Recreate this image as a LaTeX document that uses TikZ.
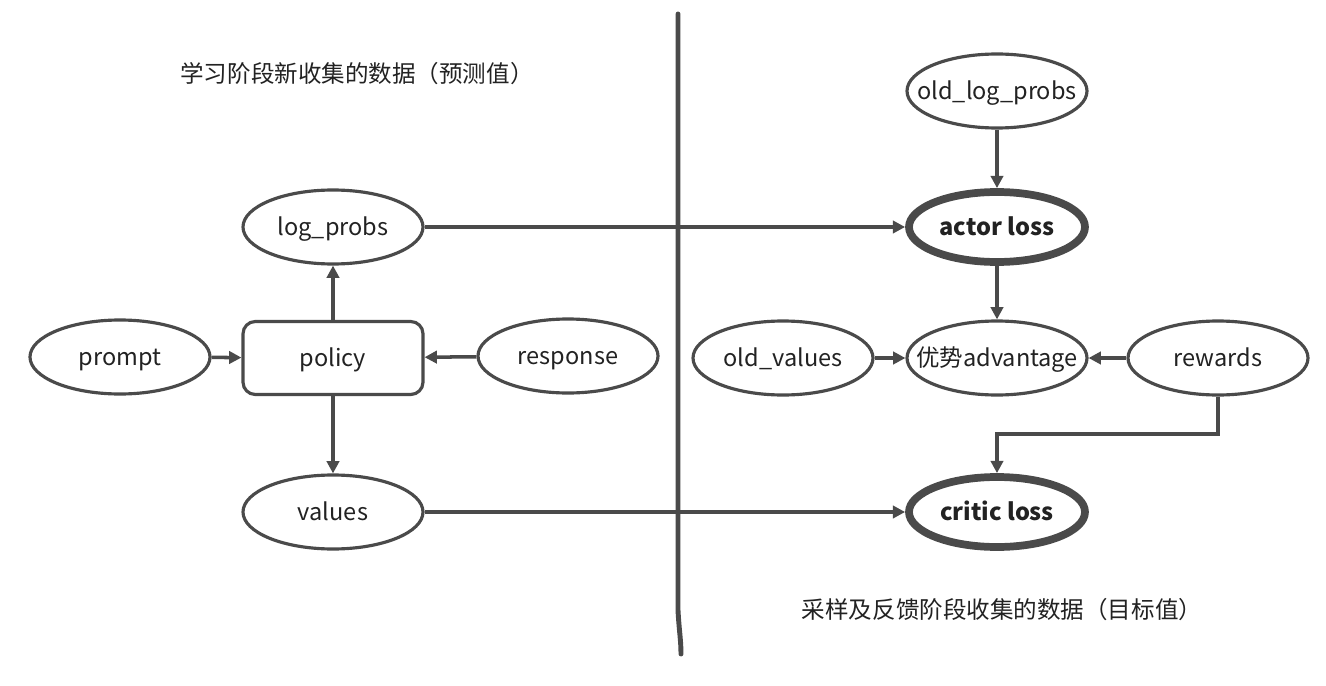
\documentclass[tikz,border=0pt]{standalone}
\usepackage{fontspec}
\setmainfont{Noto Sans CJK SC}
\usetikzlibrary{arrows.meta,shapes.geometric}
\definecolor{ln}{HTML}{4A4A4A}
\definecolor{tx}{HTML}{222222}
\newcommand{\zw}[1]{\makebox[0pt]{#1}}
\begin{document}
\begin{tikzpicture}[x=0.02cm,y=-0.02cm,
  every node/.style={text=tx,font=\fontsize{13.4}{15}\selectfont},
  ell/.style={ellipse,draw=ln,line width=1.8pt,minimum width=180*0.02cm,minimum height=74*0.02cm,inner sep=0pt,text height=11pt,text depth=1pt},
  bell/.style={ell,line width=4.4pt,minimum width=176*0.02cm,minimum height=70*0.02cm,font=\fontsize{13.4}{15}\selectfont\bfseries},
  rbox/.style={rectangle,rounded corners=7pt,draw=ln,line width=1.8pt,minimum width=180*0.02cm,minimum height=73*0.02cm,inner sep=0pt,text height=11pt,text depth=1pt},
  arr/.style={draw=ln,line width=2pt,-{Triangle[length=7pt,width=7pt]}},
  lbl/.style={font=\fontsize{13.4}{15}\selectfont}]
\useasboundingbox[fill=white] (0,0) rectangle (1326,686);
% divider
\draw[ln,line width=2.8pt,line cap=round] (678,14) -- (678,610) .. controls (679,630) and (681,640) .. (681,654);
% titles
\node[lbl] (t1) at (357,74) {学习阶段新收集的数据（预测值）};
\node[lbl] (t2) at (1002,610) {采样及反馈阶段收集的数据（目标值）};
% left
\node[ell] (prompt) at (120,357) {\zw{prompt}};
\node[rbox] (policy) at (333,358) {\zw{policy}};
\node[ell] (response) at (568,356) {\zw{response}};
\node[ell] (logp) at (333,227) {\zw{log\_probs}};
\node[ell] (values) at (333,512) {\zw{values}};
% right
\node[ell] (oldlp) at (997,91) {\zw{old\_log\_probs}};
\node[bell] (actor) at (997,227) {\zw{actor loss}};
\node[ell] (adv) at (997,358) {\zw{优势advantage}};
\node[ell] (oldv) at (783,358) {\zw{old\_values}};
\node[ell] (rew) at (1218,358) {\zw{rewards}};
\node[bell] (critic) at (997,512) {\zw{critic loss}};
% connectors
\draw[arr] (prompt) -- (policy);
\draw[arr] (response) -- (policy);
\draw[arr] (policy) -- (logp);
\draw[arr] (policy) -- (values);
\draw[arr] (logp) -- (actor);
\draw[arr] (values) -- (critic);
\draw[arr] (oldlp) -- (actor);
\draw[arr] (actor) -- (adv);
\draw[arr] (oldv) -- (adv);
\draw[arr] (rew) -- (adv);
\coordinate (c1) at (1218,434);
\coordinate (c2) at (997,434);
\draw[arr] (rew.south) -- (c1) -- (c2) -- (critic.north);
\end{tikzpicture}
\end{document}
